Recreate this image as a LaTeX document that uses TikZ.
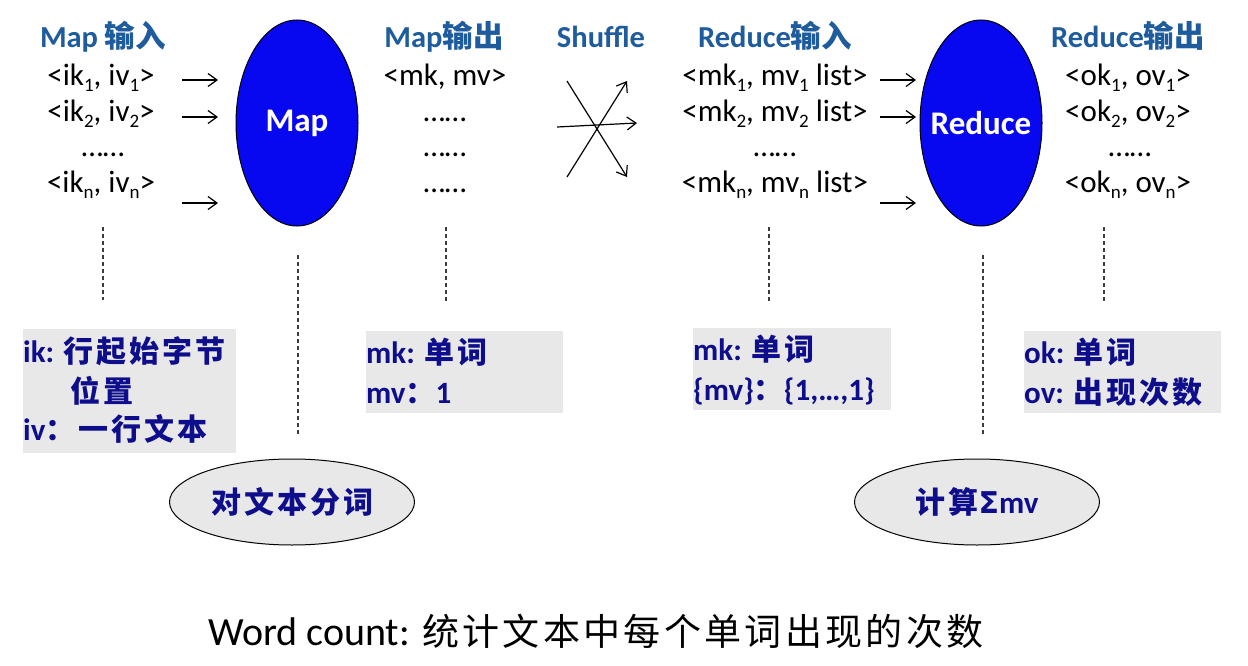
\documentclass[tikz,border=0pt]{standalone}
\usepackage{fontspec}
\setmainfont{Carlito}
\newfontfamily\cjk{Noto Sans CJK SC}
\newfontfamily\cjksp{Noto Sans CJK SC}[LetterSpace=10]
\newfontfamily\cjkcap{Noto Sans CJK SC}[LetterSpace=9]
\newfontfamily\dvs{DejaVu Sans}
\usetikzlibrary{shapes.geometric,arrows.meta}
\definecolor{titleblue}{RGB}{31,92,158}
\definecolor{mapblue}{RGB}{8,8,240}
\definecolor{boxgray}{RGB}{232,232,232}
\definecolor{navy}{RGB}{14,14,140}
\definecolor{dashgray}{RGB}{60,60,60}
\newcommand{\cb}[1]{{\fontsize{30}{36}\cjksp\bfseries #1}}
\newcommand{\sbs}[1]{\raisebox{-5.5pt}{\fontsize{19}{19}\selectfont #1}}
\begin{document}
\begin{tikzpicture}[x=1pt,y=-1pt,
  ttl/.style={font=\fontsize{30.5}{36}\selectfont\bfseries, text=titleblue, inner sep=0, anchor=base},
  lst/.style={font=\fontsize{31}{36}\selectfont, inner sep=0, anchor=base},
  bigell/.style={ellipse, draw=black, line width=1pt, fill=mapblue, minimum width=122pt, minimum height=206pt, inner sep=0, text=white, font=\fontsize{33}{38}\selectfont\bfseries},
  smell/.style={ellipse, draw=black, line width=1pt, fill=boxgray, minimum width=245pt, minimum height=86pt, inner sep=0, text=navy, font=\fontsize{31}{36}\selectfont\bfseries},
  boxbg/.style={fill=boxgray, inner sep=0, draw=none},
  boxtxt/.style={inner sep=0, anchor=base west, text=navy, font=\fontsize{31}{36}\selectfont\bfseries},
  arr/.style={line width=1.2pt, -{Straight Barb[length=9pt,width=13pt]}},
  dsh/.style={line width=1.1pt, draw=dashgray, dash pattern=on 4pt off 3pt}
]
\fill[white] (0,0) rectangle (1248,666);
\useasboundingbox (0,0) rectangle (1248,666);

% titles
\node[ttl] (t1) at (103,48) {Map {\cjk\bfseries 输入}};
\node[ttl] (t2) at (444,48) {Map{\cjk\bfseries 输出}};
\node[ttl] (t3) at (601,48) {Shuffle};
\node[ttl] (t4) at (775,48) {Reduce{\cjk\bfseries 输入}};
\node[ttl] (t5) at (1128,48) {Reduce{\cjk\bfseries 输出}};

% map input list
\node[lst] (i1) at (101,86) {<ik\sbs{1}, iv\sbs{1}>};
\node[lst] (i2) at (101,122) {<ik\sbs{2}, iv\sbs{2}>};
\node[lst] (i3) at (103,157) {……};
\node[lst] (in) at (101,193) {<ik\sbs{n}, iv\sbs{n}>};

% map output list
\node[lst] (o1) at (445,86) {<mk, mv>};
\node[lst] (o2) at (445,122) {……};
\node[lst] (o3) at (445,157) {……};
\node[lst] (o4) at (445,193) {……};

% reduce input list
\node[lst] (r1) at (775,86) {<mk\sbs{1}, mv\sbs{1} list>};
\node[lst] (r2) at (775,122) {<mk\sbs{2}, mv\sbs{2} list>};
\node[lst] (r3) at (775,157) {……};
\node[lst] (rn) at (775,193) {<mk\sbs{n}, mv\sbs{n} list>};

% reduce output list
\node[lst] (s1) at (1128,86) {<ok\sbs{1}, ov\sbs{1}>};
\node[lst] (s2) at (1128,122) {<ok\sbs{2}, ov\sbs{2}>};
\node[lst] (s3) at (1130,157) {……};
\node[lst] (sn) at (1128,193) {<ok\sbs{n}, ov\sbs{n}>};

% big ellipses
\node[bigell] (map) at (297,123) {\makebox[0pt][c]{Map}};
\node[bigell] (red) at (981,123) {\makebox[0pt][c]{Reduce}};

% input arrows
\coordinate (ma1) at (182,80); \coordinate (mb1) at (218,80);
\coordinate (ma2) at (182,117); \coordinate (mb2) at (218,117);
\coordinate (ma3) at (182,203); \coordinate (mb3) at (218,203);
\draw[arr] (ma1) -- (mb1);
\draw[arr] (ma2) -- (mb2);
\draw[arr] (ma3) -- (mb3);
\coordinate (ra1) at (880,80); \coordinate (rb1) at (916,80);
\coordinate (ra2) at (880,117); \coordinate (rb2) at (916,117);
\coordinate (ra3) at (880,203); \coordinate (rb3) at (916,203);
\draw[arr] (ra1) -- (rb1);
\draw[arr] (ra2) -- (rb2);
\draw[arr] (ra3) -- (rb3);

% shuffle arrows
\coordinate (sa1) at (567,81); \coordinate (sb1) at (627,177);
\coordinate (sa2) at (557,127); \coordinate (sb2) at (637,123);
\coordinate (sa3) at (567,177); \coordinate (sb3) at (627,81);
\draw[arr] (sa1) -- (sb1);
\draw[arr] (sa2) -- (sb2);
\draw[arr] (sa3) -- (sb3);

% dashed lines
\coordinate (d1a) at (103,227); \coordinate (d1b) at (103,300);
\coordinate (d2a) at (298,255); \coordinate (d2b) at (298,434);
\coordinate (d3a) at (446,227); \coordinate (d3b) at (446,301);
\coordinate (d4a) at (769,227); \coordinate (d4b) at (769,301);
\coordinate (d5a) at (983,255); \coordinate (d5b) at (983,434);
\coordinate (d6a) at (1104,227); \coordinate (d6b) at (1104,301);
\draw[dsh] (d1a) -- (d1b);
\draw[dsh] (d2a) -- (d2b);
\draw[dsh] (d3a) -- (d3b);
\draw[dsh] (d4a) -- (d4b);
\draw[dsh] (d5a) -- (d5b);
\draw[dsh] (d6a) -- (d6b);

% gray boxes
\node[boxbg, minimum width=213pt, minimum height=124pt] (b1) at (129.5,391) {};
\node[boxbg, minimum width=197pt, minimum height=82pt] (b2) at (464.5,372) {};
\node[boxbg, minimum width=198pt, minimum height=82pt] (b3) at (792,369) {};
\node[boxbg, minimum width=197pt, minimum height=82pt] (b4) at (1122.5,372) {};

\node[boxtxt] (b1a) at (23,362) {ik: \cb{行起始字节}};
\node[boxtxt] (b1b) at (70,402) {\cb{位置}};
\node[boxtxt] (b1c) at (23,440) {iv\cb{：一行文本}};
\node[boxtxt] (b2a) at (366,363) {mk: \cb{单词}};
\node[boxtxt] (b2b) at (366,403) {mv\cb{：}1};
\node[boxtxt] (b3a) at (693,360) {mk: \cb{单词}};
\node[boxtxt] (b3b) at (693,400) {\{mv\}\cb{：}\{1,…,1\}};
\node[boxtxt] (b4a) at (1024,363) {ok: \cb{单词}};
\node[boxtxt] (b4b) at (1024,403) {ov: \cb{出现次数}};

% small ellipses
\node[smell] (e1) at (292,502) {\cb{对文本分词}};
\node[smell] (e2) at (977,502) {\cb{计算}{\dvs\bfseries\fontsize{30}{36}\selectfont Σ}mv};

% caption
\node[inner sep=0, anchor=base west, font=\fontsize{40}{46}\selectfont] (cap) at (208,645) {Word count: {\fontsize{37}{44}\cjkcap 统计文本中每个单词出现的次数}};
\end{tikzpicture}
\end{document}
